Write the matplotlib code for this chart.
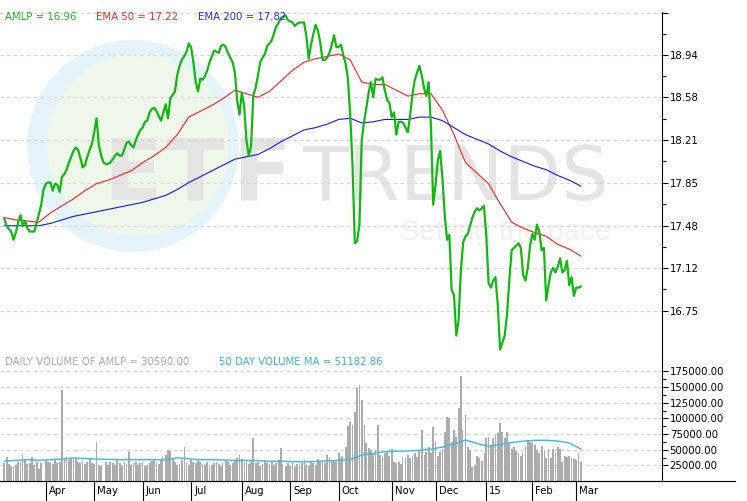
import matplotlib
matplotlib.use('Agg')
import matplotlib.pyplot as plt
import matplotlib.transforms as mtransforms
from matplotlib.patches import Circle
import numpy as np
import pandas as pd

# trading calendar of the chart (Mar 6 2014 .. Mar 4 2015)
holidays = ['2014-04-18', '2014-05-26', '2014-07-04', '2014-09-01', '2014-11-27',
            '2014-12-25', '2015-01-01', '2015-01-19', '2015-02-16']
dates = pd.bdate_range('2014-03-06', '2015-03-04')
dates = dates[~dates.isin(pd.to_datetime(holidays))]

# AMLP daily close
amlp_close = [
    17.54, 17.48, 17.45, 17.43, 17.36, 17.42, 17.51, 17.57, 17.48, 17.52,
    17.46, 17.43, 17.43, 17.43, 17.50, 17.58, 17.66, 17.79, 17.84, 17.85,
    17.85, 17.78, 17.84, 17.83, 17.77, 17.90, 17.92, 17.96, 18.02, 18.07,
    18.12, 18.15, 18.13, 18.06, 17.98, 18.00, 18.07, 18.13, 18.18, 18.28,
    18.40, 18.17, 18.08, 18.02, 18.01, 18.01, 18.02, 18.05, 18.08, 18.10,
    18.08, 18.08, 18.13, 18.19, 18.20, 18.17, 18.15, 18.21, 18.26, 18.30,
    18.32, 18.37, 18.38, 18.45, 18.48, 18.49, 18.46, 18.42, 18.38, 18.45,
    18.52, 18.40, 18.57, 18.60, 18.63, 18.77, 18.85, 18.90, 18.93, 18.97,
    19.04, 19.01, 18.88, 18.71, 18.63, 18.74, 18.73, 18.76, 18.81, 18.88,
    18.93, 18.98, 18.97, 18.96, 19.02, 19.03, 19.01, 18.96, 18.92, 18.88,
    18.79, 18.55, 18.43, 18.62, 18.51, 18.21, 18.08, 18.16, 18.60, 18.66,
    18.77, 18.88, 18.92, 18.95, 19.02, 19.04, 19.07, 19.13, 19.19, 19.22,
    19.26, 19.27, 19.28, 19.24, 19.23, 19.22, 19.19, 19.21, 19.22, 19.22,
    19.22, 19.10, 18.91, 19.03, 19.12, 19.20, 19.15, 19.05, 18.90, 18.90,
    18.92, 18.96, 19.03, 19.11, 19.01, 19.01, 19.03, 18.94, 18.87, 18.74,
    18.43, 18.00, 17.33, 17.35, 17.49, 18.21, 18.37, 18.49, 18.62, 18.71,
    18.58, 18.74, 18.73, 18.73, 18.75, 18.64, 18.56, 18.53, 18.41, 18.45,
    18.26, 18.37, 18.37, 18.36, 18.32, 18.28, 18.43, 18.60, 18.73, 18.79,
    18.85, 18.77, 18.66, 18.59, 18.71, 18.34, 17.66, 17.83, 18.04, 18.12,
    17.89, 17.57, 17.36, 17.40, 16.93, 16.89, 16.54, 16.67, 17.10, 17.34,
    17.39, 17.41, 17.48, 17.55, 17.60, 17.63, 17.61, 17.63, 17.65, 17.40,
    16.99, 16.95, 17.01, 17.04, 16.80, 16.42, 16.48, 16.54, 16.72, 17.01,
    17.27, 17.29, 17.31, 17.33, 17.29, 17.06, 17.01, 17.12, 17.31, 17.41,
    17.36, 17.49, 17.43, 17.27, 17.29, 16.84, 16.97, 17.08, 17.12, 17.08,
    17.13, 17.20, 17.08, 17.10, 17.18, 16.97, 17.04, 16.88, 16.95, 16.95,
    16.96,
]

# moving averages, one reading every 5 trading days
ema50_weekly = [
    17.55, 17.53, 17.52, 17.51, 17.59, 17.65, 17.71, 17.78, 17.84, 17.87,
    17.91, 17.95, 18.02, 18.08, 18.15, 18.26, 18.41, 18.46, 18.51, 18.57,
    18.64, 18.61, 18.58, 18.63, 18.72, 18.81, 18.88, 18.91, 18.93, 18.95,
    18.90, 18.71, 18.69, 18.69, 18.64, 18.59, 18.61, 18.61, 18.47, 18.26,
    18.02, 17.93, 17.84, 17.67, 17.51, 17.46, 17.42, 17.39, 17.32, 17.28,
    17.22,
]
ema200_weekly = [
    17.48, 17.48, 17.48, 17.48, 17.50, 17.53, 17.56, 17.58, 17.60, 17.62,
    17.64, 17.66, 17.68, 17.71, 17.74, 17.79, 17.85, 17.90, 17.95, 18.00,
    18.05, 18.07, 18.09, 18.14, 18.20, 18.25, 18.30, 18.32, 18.35, 18.39,
    18.40, 18.36, 18.37, 18.39, 18.39, 18.39, 18.41, 18.41, 18.38, 18.32,
    18.26, 18.22, 18.18, 18.12, 18.07, 18.03, 17.99, 17.96, 17.91, 17.87,
    17.82,
]

# daily volume (thousands of shares)
volume_k = [
    29, 39, 27, 24, 23, 26, 30, 28, 41, 33, 27, 29, 38, 26, 30, 19, 28, 31,
    33, 30, 28, 27, 33, 29, 31, 146, 36, 38, 34, 37, 33, 35, 30, 29, 32, 27, 30, 35, 28,
    27, 62, 26, 24, 33, 30, 26, 31, 29, 25, 35, 28, 24, 30, 27, 47, 26, 29, 31, 25, 28,
    30, 24, 26, 28, 32, 35, 30, 27, 33, 38, 42, 50, 48, 36, 30, 25, 27, 33, 55, 29, 26,
    33, 30, 28, 35, 31, 27, 25, 30, 22, 26, 29, 31, 27, 24, 28, 32, 30, 25, 29, 33, 36, 42,
    35, 30, 33, 27, 31, 69, 28, 30, 24, 27, 32, 29, 26, 30, 25, 28, 33, 52, 27, 24, 29,
    24, 30, 22, 27, 25, 29, 33, 26, 24, 31, 28, 26, 35, 30, 33, 28, 42, 37, 31, 34, 30,
    45, 38, 40, 55, 88, 95, 90, 110, 148, 154, 130, 90, 60, 52, 49, 45, 50, 90, 42, 38, 44, 47, 40,
    51, 31, 28, 30, 27, 38, 36, 42, 37, 40, 44, 39, 48, 81, 42, 46, 55, 45, 86,
    63, 40, 47, 50, 78, 102, 101, 63, 81, 70, 116, 167, 82, 106, 54, 49, 23, 26, 40, 37, 32, 45,
    68, 71, 58, 68, 73, 76, 93, 79, 68, 79, 63, 51, 54, 48, 44, 40, 44, 54, 66, 63,
    61, 58, 50, 44, 56, 49, 37, 51, 37, 51, 44, 55, 51, 30, 40, 38, 40, 37, 35,
    33, 44, 30.59,
]
volume_ma_weekly_k = [
    31.6, 33, 34, 33, 34, 35, 36.7, 36, 35, 34.5, 34, 34, 34, 34, 34, 37, 35.5,
    34, 34, 33.5, 33, 33, 32.5, 31.6, 31.6, 31, 30.5, 31.2, 32, 33, 34.5, 41.5,
    44, 47, 47.5, 48, 49, 51, 54, 59, 65.4, 60, 55.4, 58, 61.5, 63.5, 65, 65,
    63.8, 60.7, 51.18,
]

price_ticks = [16.75, 17.12, 17.48, 17.85, 18.21, 18.58, 18.94, 19.30]
volume_ticks = [25000, 50000, 75000, 100000, 125000, 150000, 175000]
month_labels = ['Apr', 'May', 'Jun', 'Jul', 'Aug', 'Sep', 'Oct', 'Nov', 'Dec', '15', 'Feb', 'Mar']

x = np.arange(len(dates))
weekly_x = x[::5]
volume = np.array(volume_k) * 1000
volume_ma = np.array(volume_ma_weekly_k) * 1000
month_starts = [i for i in range(1, len(dates)) if dates[i].month != dates[i - 1].month]

W, H = 747, 501
fig = plt.figure(figsize=(W / 100, H / 100), dpi=100)
fs = 7.3


def box(left, top, right, bottom):
    return [left / W, 1 - bottom / H, (right - left) / W, (bottom - top) / H]


# watermark background
bg = fig.add_axes([0, 0, 1, 1], zorder=-1)
bg.set_xlim(0, W)
bg.set_ylim(H, 0)
bg.axis('off')
bg.add_patch(Circle((133, 146), 106, color='#e5f4fb', lw=0))
bg.add_patch(Circle((138, 145), 91, color='#eef7ea', lw=0))
for px, letter in zip([103, 166, 232], 'ETF'):
    bg.text(px, 200, letter, fontsize=62, fontweight='bold', color='#e4e4e4', va='baseline')
bg.text(302, 200, 'TRENDS', fontsize=54, color='#e4e4e4', va='baseline')
bg.text(400, 240, 'Setting the pace', family='Liberation Sans', fontsize=21,
        color='#f1f1f1', va='baseline')
bg.plot([0, 735], [481, 481], color='black', lw=0.8)

x0_px, px_per_day = 4.3, 2.306
xlim = (-x0_px / px_per_day, (662 - x0_px) / px_per_day)
grid_kw = dict(color='#d4d4d4', ls=(0, (3, 3)), lw=0.8)

# price panel
ax = fig.add_axes(box(0, 12, 662, 357))
ax.set_facecolor('none')
ax.plot(x, amlp_close, color='#12b812', lw=1.6, zorder=3)
ax.plot(weekly_x, ema50_weekly, color='#ff1f1f', lw=0.8, zorder=2)
ax.plot(weekly_x, ema200_weekly, color='#1515ff', lw=0.8, zorder=2)
ax.set_xlim(xlim)
ax.set_ylim(16.356, 19.31)
ax.set_xticks([])
ax.yaxis.tick_right()
ax.set_yticks(price_ticks)
ax.set_yticklabels([f'{t:.2f}' for t in price_ticks[:-1]] + [''])
ax.set_yticks([(a + b) / 2 for a, b in zip(price_ticks[:-1], price_ticks[1:])], minor=True)
ax.tick_params(axis='y', which='major', length=4.5, width=0.8, pad=1, labelsize=fs)
ax.tick_params(axis='y', which='minor', length=3, width=0.8)
ax.grid(axis='y', which='major', **grid_kw)
ax.set_axisbelow(True)
for s in ['top', 'left', 'bottom']:
    ax.spines[s].set_visible(False)
ax.spines['right'].set_linewidth(0.8)

# volume panel
axv = fig.add_axes(box(0, 357, 662, 481))
axv.set_facecolor('none')
axv.bar(x, volume, width=0.8, color='#abacab', lw=0, zorder=1)
for px in range(23, 600, 20):
    axv.axvline((px - x0_px) / px_per_day, color='white', lw=0.7, zorder=1.5)
axv.plot(weekly_x, volume_ma, color='#38b9f2', lw=1.0, zorder=3)
axv.set_xlim(xlim)
axv.set_ylim(0, 198000)
axv.yaxis.tick_right()
axv.set_yticks(volume_ticks)
axv.set_yticklabels([f'{t:.2f}' for t in volume_ticks])
axv.set_yticks([(a + b) / 2 for a, b in zip(volume_ticks[:-1], volume_ticks[1:])], minor=True)
axv.tick_params(axis='y', which='major', length=4.5, width=0.8, pad=1, labelsize=fs)
axv.tick_params(axis='y', which='minor', length=3, width=0.8)
axv.grid(axis='y', which='major', **grid_kw)
axv.set_axisbelow(True)
axv.set_xticks(month_starts)
axv.set_xticklabels([])
axv.tick_params(axis='x', length=14.4, width=0.8, direction='out')
for s in ['top', 'left']:
    axv.spines[s].set_visible(False)
axv.spines['right'].set_linewidth(0.8)
axv.spines['bottom'].set_linewidth(0.8)

lab_tr = mtransforms.blended_transform_factory(axv.transData, fig.transFigure) + \
    mtransforms.ScaledTranslation(3 / 100, 0, fig.dpi_scale_trans)
for i, lab in zip(month_starts, month_labels):
    fig.text(i, 1 - 491 / H, lab, transform=lab_tr, fontsize=fs, va='center', ha='left')

# legends / headers
ty = 1 - 17 / H
fig.text(5 / W, ty, f'AMLP = {amlp_close[-1]:.2f}', color='#22b522', fontsize=fs, va='center')
fig.text(96 / W, ty, f'EMA 50 = {ema50_weekly[-1]:.2f}', color='#ff2a2a', fontsize=fs, va='center')
fig.text(198 / W, ty, f'EMA 200 = {ema200_weekly[-1]:.2f}', color='#2b2bdd', fontsize=fs, va='center')
vy = 1 - 362 / H
fig.text(5 / W, vy, f'DAILY VOLUME OF AMLP = {volume[-1]:.2f}', color='#aaaaaa', fontsize=fs, va='center')
fig.text(219 / W, vy, '50 DAY VOLUME MA = 51182.86', color='#33b5ee', fontsize=fs, va='center')

fig.savefig('out.png', dpi=100)
